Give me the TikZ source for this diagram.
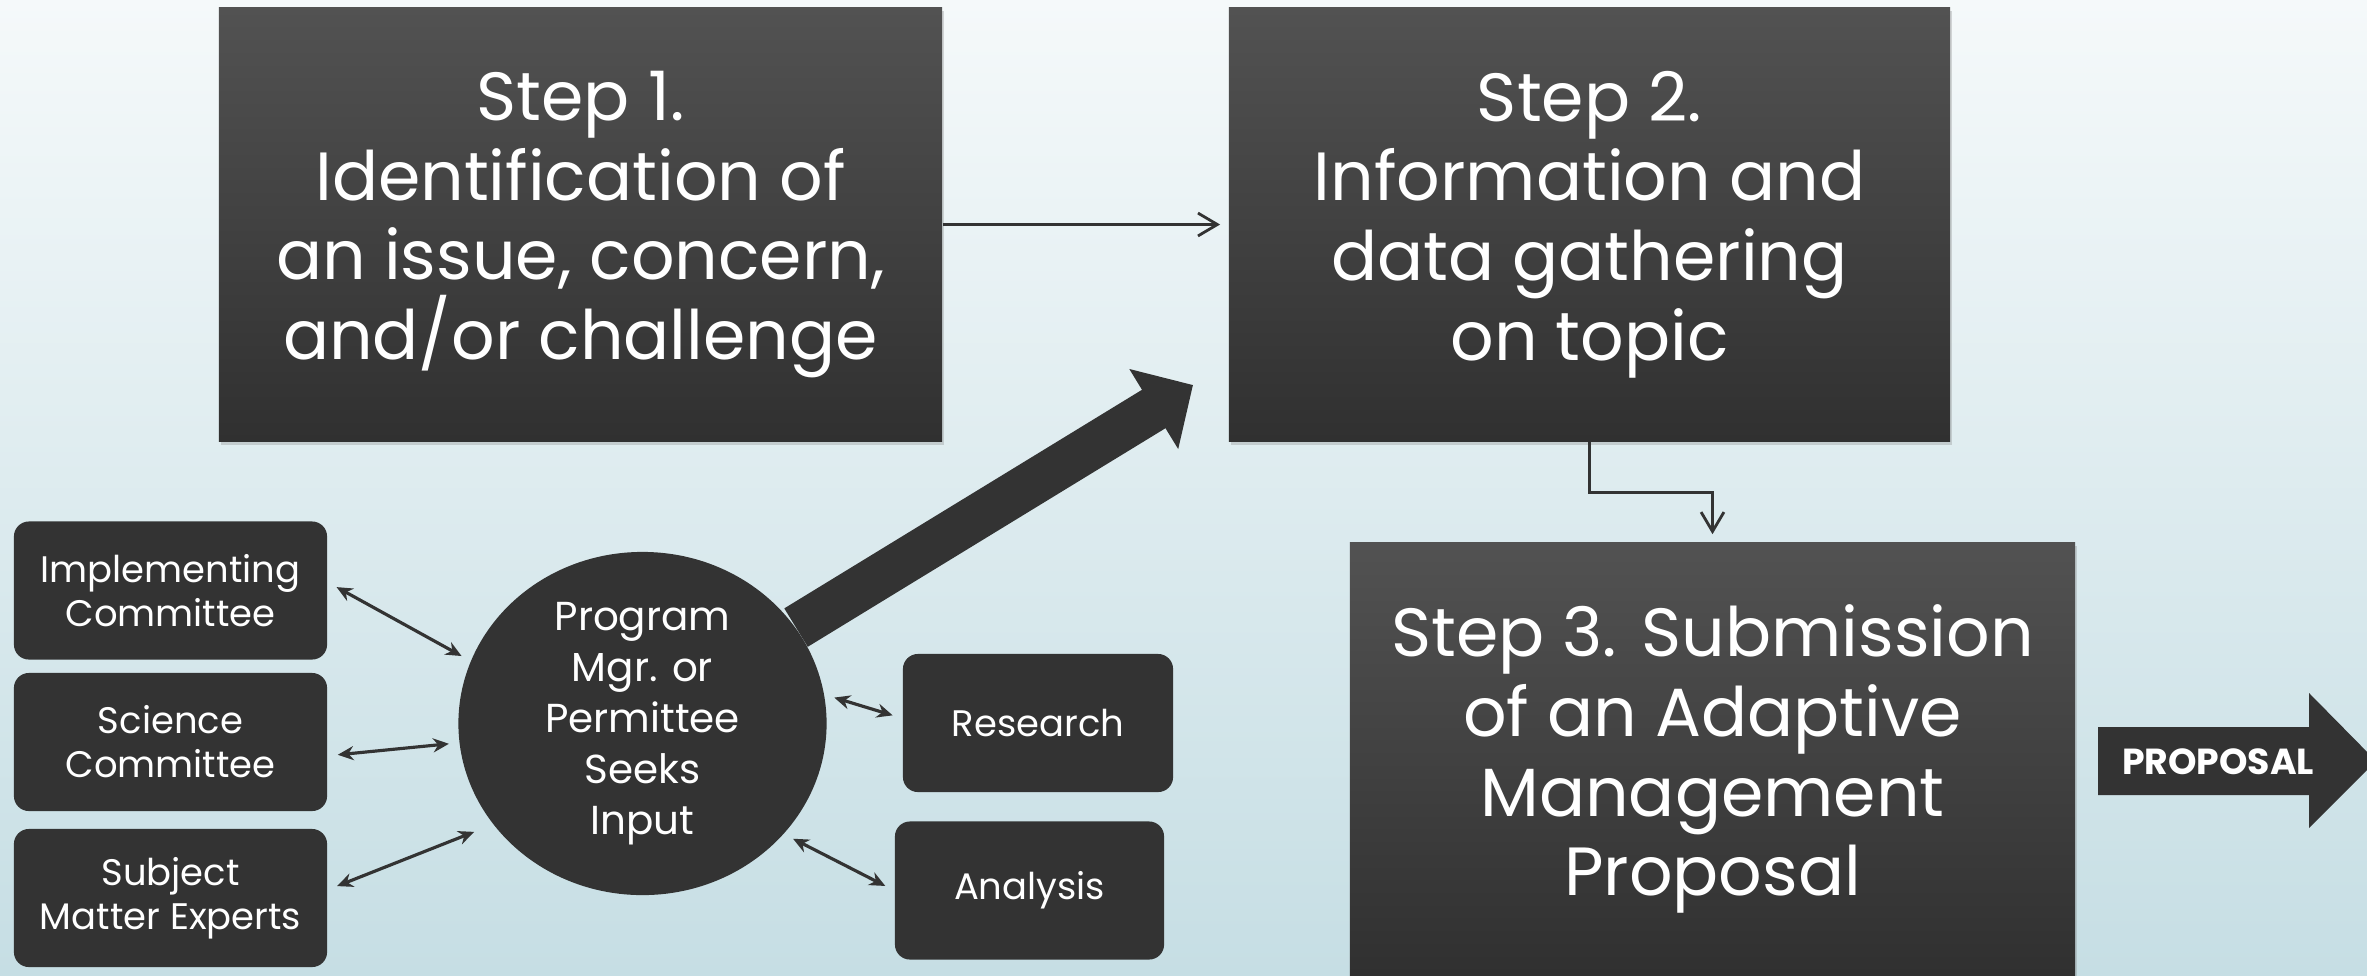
\documentclass[tikz,border=0pt]{standalone}
\usepackage{fontspec}
\setmainfont{Poppins}
\usetikzlibrary{arrows.meta,shapes.geometric,shadows}
\definecolor{bgtop}{HTML}{F5F9FA}
\definecolor{bgbot}{HTML}{C6DEE4}
\definecolor{boxtop}{HTML}{525252}
\definecolor{boxbot}{HTML}{303030}
\definecolor{boxfill}{HTML}{333333}
\definecolor{linegray}{HTML}{333333}

\begin{document}
\begin{tikzpicture}[x=0.01cm,y=-0.01cm,
    stepbox/.style={rectangle, top color=boxtop, bottom color=boxbot, text=white, align=center,
      font=\fontsize{19.4}{22.7}\selectfont, inner sep=0pt,
      drop shadow={shadow xshift=0.6pt,shadow yshift=-1pt,opacity=0.3}},
    inputbox/.style={rectangle, rounded corners=0.15cm, fill=boxfill, text=white, align=center,
      font=\fontsize{10.5}{12.5}\selectfont, minimum height=1.38cm, inner sep=0pt},
    hub/.style={ellipse, fill=boxfill, text=white, align=center, font=\fontsize{11.5}{14.5}\selectfont,
      minimum width=3.68cm, minimum height=3.34cm, inner sep=0pt},
    flowarrow/.style={draw=linegray, line width=0.8pt, -{Straight Barb[length=5.5pt,width=6.5pt]}},
    duo/.style={draw=linegray, line width=0.9pt, {Stealth[length=4.5pt,width=4pt]}-{Stealth[length=4.5pt,width=4pt]},
      shorten <=0.1cm, shorten >=0.1cm},
    bigarrow/.style={draw=boxfill, line width=0.45cm, -{Triangle[length=0.46cm,width=0.91cm]}}]

\useasboundingbox (0,0) rectangle (2367,975);
\shade[top color=bgtop, bottom color=bgbot] (0,0) rectangle (2367,975);

\node[stepbox, minimum width=7.23cm, minimum height=4.33cm] (step1) at (580.5,224.5)
  {Step 1.\\Identification of\\an issue, concern,\\and/or challenge};
\node[stepbox, minimum width=7.21cm, minimum height=4.33cm] (step2) at (1589.5,224.5)
  {Step 2.\\Information and\\data gathering\\on topic};
\node[stepbox, minimum width=7.25cm, minimum height=4.32cm] (step3) at (1712.5,759)
  {Step 3. Submission\\of an Adaptive\\Management\\Proposal};

\node[inputbox, minimum width=3.13cm] (impl) at (170.5,590.5) {Implementing\\Committee};
\node[inputbox, minimum width=3.13cm] (sci) at (170.5,742) {Science\\Committee};
\node[inputbox, minimum width=3.13cm] (subj) at (170.5,898) {Subject\\Matter Experts};
\node[inputbox, minimum width=2.70cm] (res) at (1038,723) {Research};
\node[inputbox, minimum width=2.69cm] (ana) at (1029.5,890.5) {Analysis};
\node[hub] (pmgr) at (642.5,723.5) {Program\\Mgr. or\\Permittee\\Seeks\\Input};

\draw[flowarrow, shorten >=0.08cm] (step1.east) -- (step2.west);
\draw[flowarrow, shorten >=0.08cm] (step2.south) -- ++(0,51) -| (step3.north);

\draw[duo] (impl.3) -- (pmgr.160);
\draw[duo] (sci.-5) -- (pmgr.186);
\draw[duo, shorten >=0.2cm] (subj.3) -- (pmgr.214);
\draw[duo] (pmgr.9) -- (res.178);
\draw[duo] (pmgr.-38) -- (ana.west);

\coordinate (bigtip) at (1193,385);
\draw[bigarrow] (pmgr.32) -- (bigtip);

\fill[boxfill] (2098,727) -- (2309,727) -- (2309,693) -- (2376,761) -- (2309,828) -- (2309,795) -- (2098,795) -- cycle;
\node[text=white, font=\fontsize{10.3}{12}\selectfont\bfseries] (prop) at (2218,762) {PROPOSAL};
\end{tikzpicture}
\end{document}
